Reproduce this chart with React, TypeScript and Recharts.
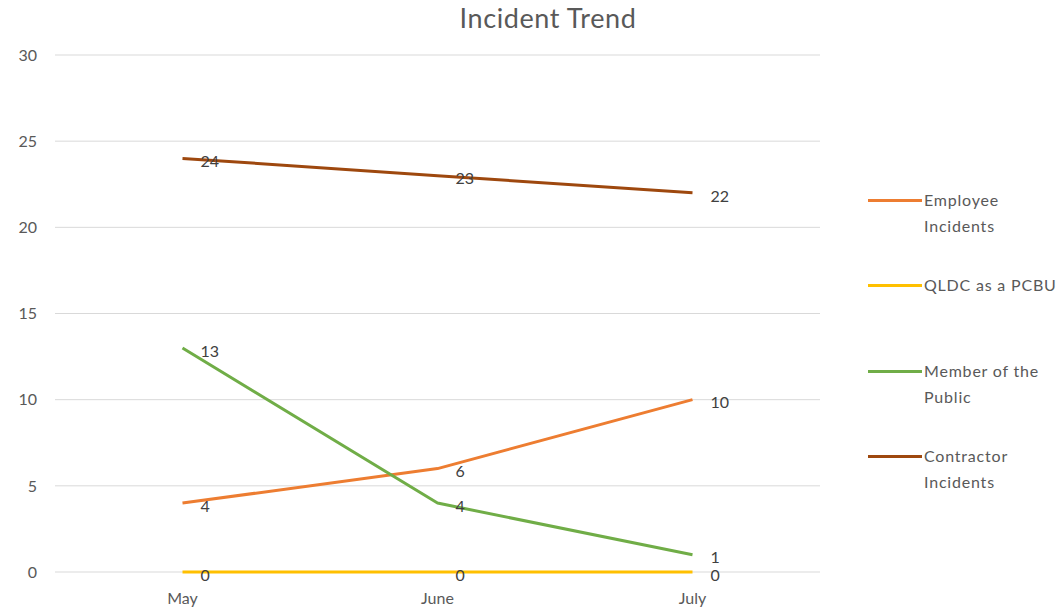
import { LineChart, Line, XAxis, YAxis, CartesianGrid, LabelList } from "recharts";

const months = ["May", "June", "July"];
const employeeIncidents = [4, 6, 10];
const qldcAsPcbu = [0, 0, 0];
const memberOfPublic = [13, 4, 1];
const contractorIncidents = [24, 23, 22];
const yTicks = [0, 5, 10, 15, 20, 25, 30];

const seriesList = [
  { key: "employee", name: "Employee Incidents", color: "#ED7D31", values: employeeIncidents },
  { key: "qldc", name: "QLDC as a PCBU", color: "#FFC000", values: qldcAsPcbu },
  { key: "member", name: "Member of the Public", color: "#70AD47", values: memberOfPublic },
  { key: "contractor", name: "Contractor Incidents", color: "#9E480E", values: contractorIncidents },
];

const data = months.map((m, i) => {
  const row: Record<string, string | number> = { month: m };
  seriesList.forEach((s) => {
    row[s.key] = s.values[i];
  });
  return row;
});

const FONT = "Lato, 'Open Sans', sans-serif";
const TEXT = "#595959";

function LegendBox() {
  return (
    <div
      style={{
        position: "absolute",
        left: 868,
        top: 187,
        width: 195,
        fontFamily: FONT,
        fontSize: 16,
        letterSpacing: 0.8,
        color: TEXT,
      }}
    >
      {seriesList.map((s) => (
        <div key={s.key} style={{ display: "flex", alignItems: "flex-start", height: 85.3 }}>
          <div style={{ width: 54, height: 3, background: s.color, marginTop: 12, flexShrink: 0 }} />
          <div style={{ width: 139, lineHeight: "26px", marginLeft: 2 }}>{s.name}</div>
        </div>
      ))}
    </div>
  );
}

export default function App() {
  return (
    <div style={{ position: "absolute", left: 0, top: 0, width: 1063, height: 614, background: "#fff" }}>
      <div
        style={{
          position: "absolute",
          top: 1,
          left: 0,
          width: 1096,
          textAlign: "center",
          fontFamily: FONT,
          fontSize: 27,
          letterSpacing: 0.6,
          color: TEXT,
        }}
      >
        Incident Trend
      </div>
      <LineChart width={1063} height={614} data={data} margin={{ top: 55, right: 243, bottom: 12, left: 0 }}>
        <CartesianGrid vertical={false} stroke="#d9d9d9" strokeWidth={1} />
        <XAxis
          dataKey="month"
          padding={{ left: 127.5, right: 127.5 }}
          axisLine={false}
          tickLine={false}
          tickMargin={15}
          tick={{ fontSize: 16, fill: TEXT, fontFamily: FONT }}
        />
        <YAxis
          width={55}
          domain={[0, 30]}
          ticks={yTicks}
          axisLine={false}
          tickLine={false}
          tickMargin={12}
          tick={{ fontSize: 16, fill: TEXT, fontFamily: FONT }}
        />
        {seriesList.map((s) => (
          <Line
            key={s.key}
            type="linear"
            dataKey={s.key}
            name={s.name}
            stroke={s.color}
            strokeWidth={3}
            strokeLinejoin="round"
            dot={false}
            activeDot={false}
            isAnimationActive={false}
          >
            <LabelList
              dataKey={s.key}
              position="right"
              offset={18}
              fill="#404040"
              fontSize={16}
              fontFamily={FONT}
              dy={3}
            />
          </Line>
        ))}
      </LineChart>
      <LegendBox />
    </div>
  );
}
